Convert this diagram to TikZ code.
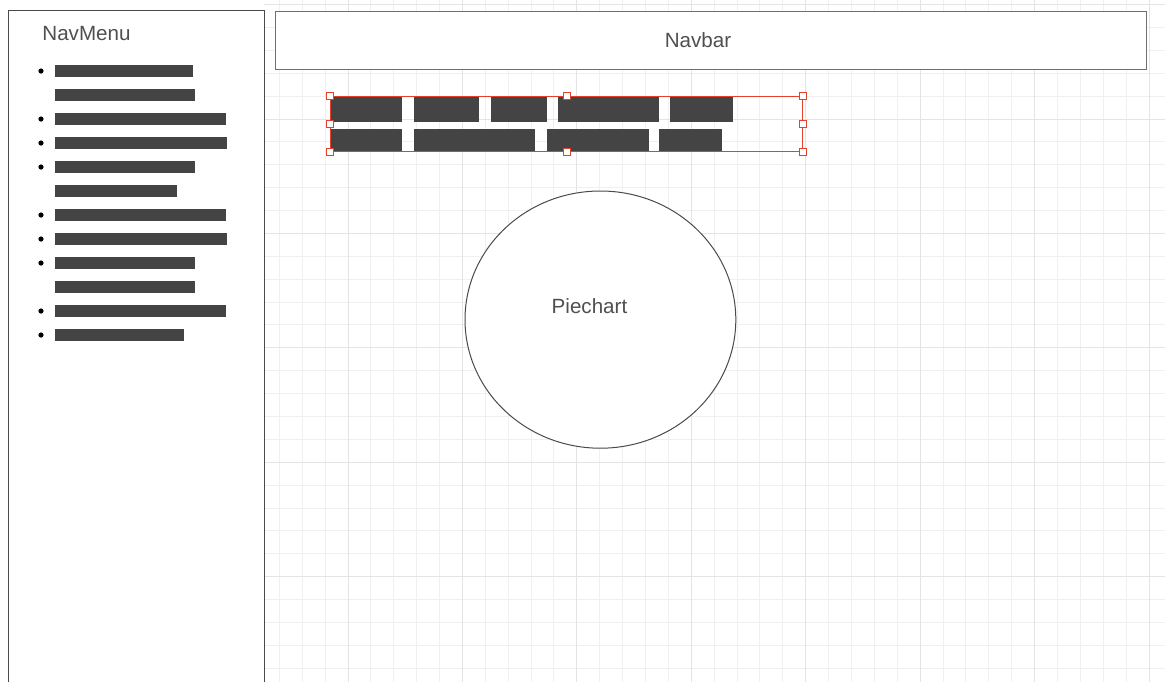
\documentclass[tikz,border=0pt]{standalone}
\usepackage{fontspec}
\setmainfont{Liberation Sans}
\usepackage{tikz}
\usepackage{xcolor}
\usetikzlibrary{shapes.geometric}
\definecolor{wiregray}{HTML}{4A4A4A}
\definecolor{wireline}{HTML}{707070}
\definecolor{wiretext}{HTML}{505050}
\definecolor{wirebar}{HTML}{444444}
\definecolor{wiregrid}{HTML}{F0F0F0}
\definecolor{wiregridmajor}{HTML}{E4E4E4}
\definecolor{wirered}{HTML}{E2412B}

\begin{document}
\begin{tikzpicture}[
        x=0.5pt, y=-0.5pt,
        panel/.style={
          draw=wiregray,
          fill=white,
          line width=0.6pt,
          anchor=north west,
          inner sep=0pt
        },
        heading/.style={
          font=\fontsize{10.3}{12}\selectfont,
          text=wiretext,
          inner sep=0pt
        },
        bar/.style={
          fill=wirebar,
          anchor=north west,
          inner sep=0pt,
          minimum height=6pt
        },
        menudot/.style={
          circle,
          fill=black,
          inner sep=0pt,
          minimum size=2.6pt
        },
        block/.style={
          fill=wirebar,
          anchor=north west,
          inner sep=0pt
        },
        handle/.style={
          draw=wirered,
          fill=white,
          line width=0.5pt,
          inner sep=0pt,
          minimum size=3.6pt
        }
      ]

      \useasboundingbox[fill=white] (0,0) rectangle (1165,681);

      \begin{scope}
        \clip (264,0) rectangle (1165,681);
        \begin{scope}[shift={(348,119)}]
          \draw[wiregrid, line width=0.5pt, step=11.443pt] (-100,570) grid (830,-130);
          \draw[wiregridmajor, line width=0.5pt, step=57.215pt] (-100,570) grid (830,-130);
        \end{scope}
      \end{scope}

      \node[panel, minimum width=128pt, minimum height=340pt] (navmenu) at (8,10) {};
      \node[heading] (menutitle) at (86.5,34) {NavMenu};

      \foreach \w [count=\k] in {69,70,85.5,86,70,61,85.5,86,70,70,85.5,64.5}
        \node[bar, minimum width=\w pt] (bar\k) at (55,{65+24*(\k-1)}) {};
      \foreach \r in {1,3,4,5,7,8,9,11,12}
        \node[menudot] (dot\r) at (41,{71+24*(\r-1)}) {};

      \node[panel, draw=wireline, minimum width=435.7pt, minimum height=29.2pt] (navbar) at (274.7,10.7) {};
      \node[heading] (navbartitle) at (698,40) {Navbar};

      \node[ellipse, draw=wiregray, fill=white, line width=0.5pt, minimum width=135.4pt, minimum height=128.6pt, inner sep=0pt] (piechart) at (600.4,319.6) {};
      \node[heading] (pietitle) at (589.5,306.5) {Piechart};

      \foreach \l/\w [count=\k] in {331/35.5, 413.7/32.65, 491/27.85, 557.7/50.3, 670/31.35}
        \node[block, minimum width=\w pt, minimum height=12.5pt] (top\k) at (\l,96.7) {};
      \foreach \l/\w [count=\k] in {331/35.5, 413.7/60.65, 546.7/50.8, 658.7/31.3}
        \node[block, minimum width=\w pt, minimum height=11pt] (low\k) at (\l,129) {};

      \node[anchor=north west, draw=wirered, line width=0.6pt, minimum width=236pt, minimum height=27.5pt, inner sep=0pt] (selection) at (330,96) {};
      \foreach \a [count=\k] in {north west, north, north east, east, south east, south, south west, west}
        \node[handle] (handle\k) at (selection.\a) {};

      \end{tikzpicture}
\end{document}
